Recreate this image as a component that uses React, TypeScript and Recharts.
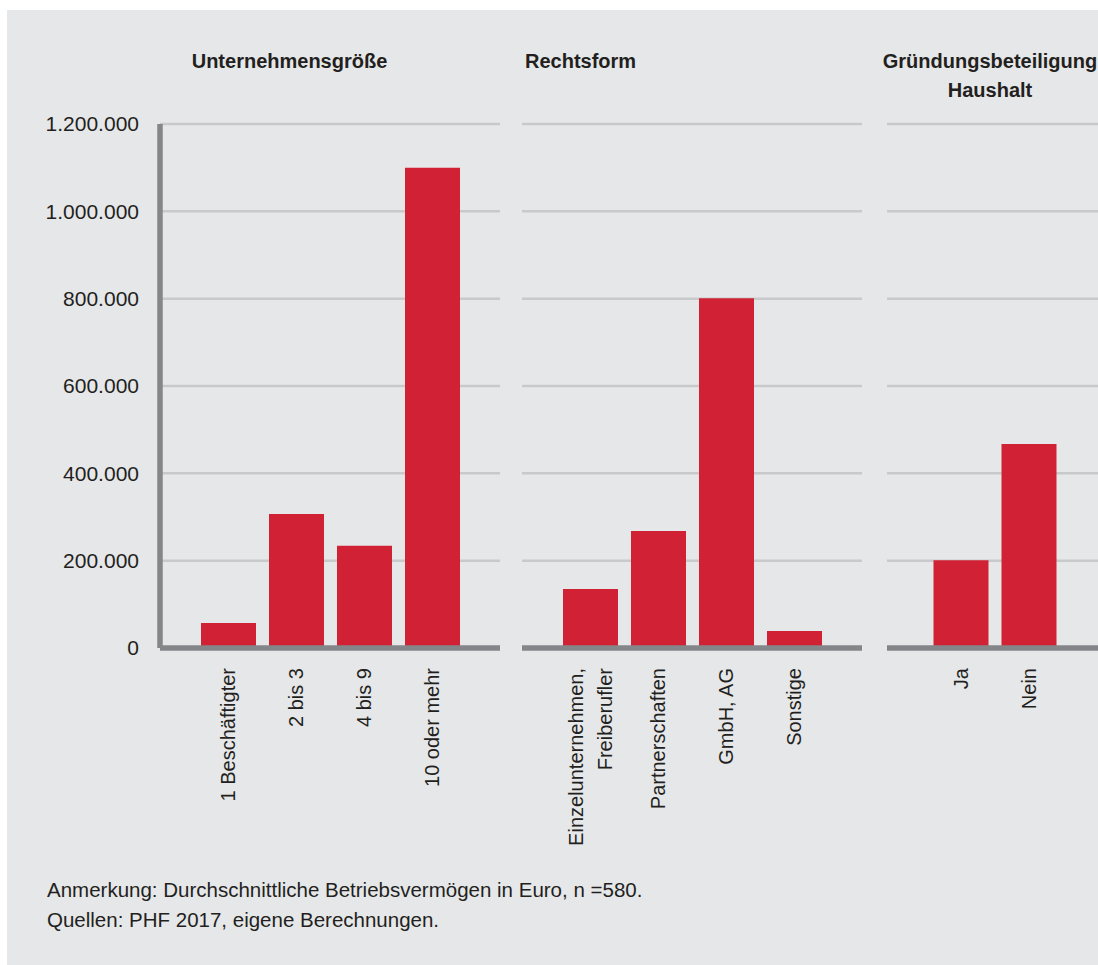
import React from 'react';
import { BarChart, Bar, XAxis, YAxis, CartesianGrid } from 'recharts';

const sizeCategories = ['1 Beschäftigter', '2 bis 3', '4 bis 9', '10 oder mehr'];
const sizeValues = [57000, 307000, 234000, 1100000];

const legalCategories = ['Einzelunternehmen,\nFreiberufler', 'Partnerschaften', 'GmbH, AG', 'Sonstige'];
const legalValues = [135000, 268000, 801000, 39000];

const foundingCategories = ['Ja', 'Nein'];
const foundingValues = [201000, 467000];

const yTicks = [0, 200000, 400000, 600000, 800000, 1000000, 1200000];

const panelTitles = ['Unternehmensgröße', 'Rechtsform', 'Gründungsbeteiligung\nHaushalt'];
const notes = ['Anmerkung: Durchschnittliche Betriebsvermögen in Euro, n =580.', 'Quellen: PHF 2017, eigene Berechnungen.'];

const BG = '#e6e7e9';
const GRID = '#c8c9cb';
const AXIS = '#858689';
const BAR = '#d12235';
const TEXT = '#231f20';
const FONT = '"Liberation Sans", Arial, sans-serif';

const fmt = (v: number) => String(v).replace(/\B(?=(\d{3})+(?!\d))/g, '.');

const build = (cats: string[], vals: number[]) => cats.map((c, i) => ({ name: c, value: vals[i] }));

const XTick = (props: any) => {
  const { x, y, payload } = props;
  const lines = String(payload.value).split('\n');
  const n = lines.length;
  return (
    <text
      x={x}
      y={y}
      transform={`rotate(-90, ${x}, ${y})`}
      textAnchor="end"
      fontSize={20}
      fill={TEXT}
      fontFamily={FONT}
    >
      {lines.map((l, i) => (
        <tspan key={i} x={x} dy={i === 0 ? 7 - ((n - 1) * 29) / 2 : 29}>
          {l}
        </tspan>
      ))}
    </text>
  );
};

const H = 850;
const TOP = 114;
const XH = 212;

const Panel = ({ data, width, left, showY, pad }: any) => (
  <div style={{ position: 'absolute', left, top: 0 }}>
    <BarChart width={width} height={H} data={data} margin={{ top: TOP, right: 0, bottom: 0, left: 0 }}>
      <CartesianGrid vertical={false} stroke={GRID} strokeWidth={2.5} />
      <XAxis
        dataKey="name"
        interval={0}
        height={XH}
        padding={{ left: pad, right: pad }}
        axisLine={{ stroke: AXIS, strokeWidth: 5.5 }}
        tickLine={false}
        tickSize={0}
        tickMargin={20}
        tick={<XTick />}
      />
      <YAxis
        hide={!showY}
        width={153}
        domain={[0, 1200000]}
        ticks={yTicks}
        interval={0}
        tickFormatter={fmt}
        axisLine={{ stroke: AXIS, strokeWidth: 5.5 }}
        tickLine={false}
        tickSize={0}
        tickMargin={21}
        tick={{ fill: TEXT, fontSize: 21, fontFamily: FONT }}
      />
      <Bar dataKey="value" fill={BAR} barSize={55} isAnimationActive={false} />
    </BarChart>
  </div>
);

export default function App() {
  return (
    <div style={{ position: 'relative', width: 1098, height: 965, overflow: 'hidden' }}>
      <style>{`body{margin:0}`}</style>
      <div
        style={{
          position: 'absolute',
          left: 7,
          top: 10,
          width: 1091,
          height: 955,
          background: BG,
          overflow: 'hidden',
          fontFamily: FONT,
        }}
      >
        <Panel data={build(sizeCategories, sizeValues)} width={493} left={0} showY pad={34} />
        <Panel data={build(legalCategories, legalValues)} width={340} left={515} showY={false} pad={34} />
        <Panel data={build(foundingCategories, foundingValues)} width={215} left={880} showY={false} pad={39.5} />
        <svg
          width={1091}
          height={955}
          style={{ position: 'absolute', left: 0, top: 0, pointerEvents: 'none' }}
          fontFamily={FONT}
        >
          <text x={282.5} y={58} textAnchor="middle" fontSize={20} fontWeight="bold" fill={TEXT}>
            {panelTitles[0]}
          </text>
          <text x={518} y={58} textAnchor="start" fontSize={20} fontWeight="bold" fill={TEXT}>
            {panelTitles[1]}
          </text>
          <text x={983} y={58} textAnchor="middle" fontSize={20} fontWeight="bold" fill={TEXT}>
            {panelTitles[2].split('\n').map((l, i) => (
              <tspan key={i} x={983} dy={i === 0 ? 0 : 29}>
                {l}
              </tspan>
            ))}
          </text>
          {notes.map((t, i) => (
            <text key={i} x={40} y={887 + i * 30} fontSize={20.5} fill={TEXT}>
              {t}
            </text>
          ))}
        </svg>
      </div>
    </div>
  );
}
